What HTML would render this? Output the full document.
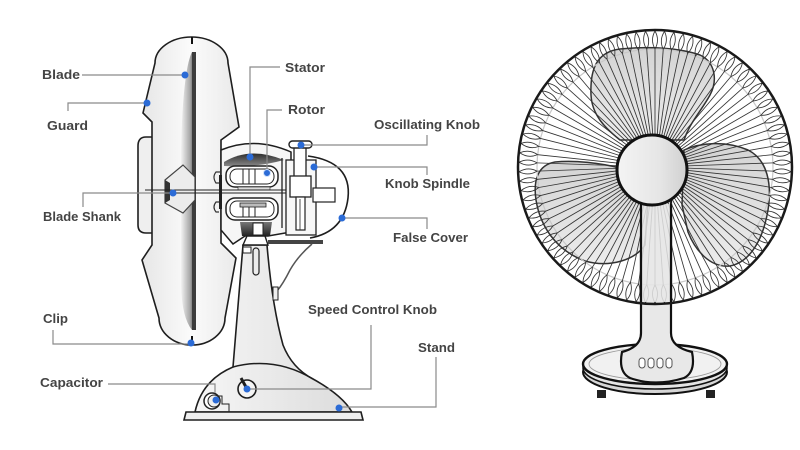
<!DOCTYPE html>
<html><head><meta charset="utf-8"><style>
html,body{margin:0;padding:0;background:#fff;}
svg{display:block;}
text{font-family:"Liberation Sans",sans-serif;font-weight:bold;font-size:13px;fill:#444;}
</style></head><body>
<svg width="800" height="450" viewBox="0 0 800 450" xmlns="http://www.w3.org/2000/svg">
<defs>
<linearGradient id="gGuard" x1="0" x2="1" y1="0" y2="0"><stop offset="0" stop-color="#e6e6e6"/><stop offset="0.5" stop-color="#fbfbfb"/><stop offset="1" stop-color="#e9e9e9"/></linearGradient>
<linearGradient id="gBlade" x1="0" x2="1"><stop offset="0" stop-color="#f2f2f2"/><stop offset="0.6" stop-color="#a8a8a8"/><stop offset="1" stop-color="#3a3a3a"/></linearGradient>
<linearGradient id="gDark" x1="0" x2="0" y1="0" y2="1"><stop offset="0" stop-color="#2e2e2e"/><stop offset="1" stop-color="#8a8a8a"/></linearGradient>
<linearGradient id="gCol" x1="0" x2="1"><stop offset="0" stop-color="#f6f6f6"/><stop offset="1" stop-color="#dcdcdc"/></linearGradient>
<linearGradient id="gHub" x1="0" x2="1"><stop offset="0" stop-color="#f4f4f4"/><stop offset="0.6" stop-color="#e6e6e6"/><stop offset="1" stop-color="#d0d0d0"/></linearGradient>
<linearGradient id="gFB" x1="0" x2="0" y1="0" y2="1"><stop offset="0" stop-color="#d4d4d4"/><stop offset="1" stop-color="#ececec"/></linearGradient>
<linearGradient id="gBot" x1="0" x2="0" y1="0" y2="1"><stop offset="0" stop-color="#777"/><stop offset="1" stop-color="#222"/></linearGradient>
<g id="s" stroke="#333" stroke-width="0.85" fill="none">
<line x1="655" y1="135" x2="655" y2="49"/>
<path d="M655,49 Q650,40 655,31 Q660,40 655,49"/>
</g>
<g id="s9">
<use href="#s"/>
<use href="#s" transform="rotate(4 655 167)"/>
<use href="#s" transform="rotate(8 655 167)"/>
<use href="#s" transform="rotate(12 655 167)"/>
<use href="#s" transform="rotate(16 655 167)"/>
<use href="#s" transform="rotate(20 655 167)"/>
<use href="#s" transform="rotate(24 655 167)"/>
<use href="#s" transform="rotate(28 655 167)"/>
<use href="#s" transform="rotate(32 655 167)"/>
</g>
</defs>

<rect width="800" height="450" fill="#fff"/>

<!-- ============ LEFT SIDE VIEW ============ -->
<path d="M153,137 L146,137 Q138,137 138,146 L138,225 Q138,233 146,233 L153,233" fill="#efefef" stroke="#1e1e1e" stroke-width="1.6"/>
<path d="M155,63 A36.5,26 0 0 1 228,63 L239,127 L221,140 L221,243 L236,258 L225,318 A33,27 0 0 1 159,318 L142,260 L152,245 L152,122 L143,113 Z" fill="url(#gGuard)" stroke="#1e1e1e" stroke-width="1.6"/>
<line x1="192" y1="37" x2="192" y2="44" stroke="#111" stroke-width="2"/>
<path d="M192,52 Q183,70 181,150 L181,285 Q182,318 192,330 L196,330 L196,52 Z" fill="url(#gBlade)"/>
<rect x="192" y="52" width="4" height="278" fill="#3c3c3c"/>
<line x1="192" y1="336" x2="192" y2="343" stroke="#111" stroke-width="2"/>
<polygon points="165,180 183,165 195,177 195,200 183,213 165,203" fill="#ececec" stroke="#444" stroke-width="1.2"/>
<polygon points="165,180 170,183 170,200 165,203" fill="#333"/>

<path d="M221,150 Q255,136 291,152 L291,232 L268,236 L245,236 L233,244 L221,230 Z" fill="#f6f6f6" stroke="#1e1e1e" stroke-width="1.5"/>
<path d="M224,162 Q250,146 284,160 Q255,168 224,166 Z" fill="url(#gDark)"/>
<rect x="226" y="166" width="52" height="21" rx="9" fill="#fff" stroke="#222" stroke-width="1.5"/>
<rect x="230" y="169" width="44" height="15" rx="7" fill="none" stroke="#222" stroke-width="1"/>
<path d="M243,169 V184 M249,169 V184 M255,169 V184" stroke="#222" stroke-width="1"/>
<rect x="226" y="198" width="52" height="22" rx="9" fill="#fff" stroke="#222" stroke-width="1.5"/>
<rect x="230" y="201" width="44" height="16" rx="7" fill="none" stroke="#222" stroke-width="1"/>
<path d="M243,206 V217 M249,206 V217 M255,206 V217" stroke="#222" stroke-width="1"/>
<rect x="240" y="203" width="26" height="4" fill="#bbb" stroke="#222" stroke-width="0.8"/>
<rect x="238" y="187" width="32" height="3" fill="#ddd" stroke="#222" stroke-width="0.6"/>
<line x1="282" y1="158" x2="282" y2="228" stroke="#222" stroke-width="1.3"/>
<path d="M221,172 L216,172 Q212,177 216,183 L219,183 M221,202 L216,202 Q212,207 216,212 L219,212" fill="none" stroke="#333" stroke-width="1.2"/>
<rect x="219" y="175" width="3" height="34" fill="#222"/>
<path d="M240,222 L272,222 L270,236 L242,236 Z" fill="url(#gBot)"/>
<rect x="253" y="223" width="10" height="12" fill="#fff" stroke="#222" stroke-width="1"/>
<line x1="145" y1="190" x2="300" y2="190" stroke="#222" stroke-width="0.9"/>
<line x1="145" y1="193" x2="300" y2="193" stroke="#222" stroke-width="0.9"/>
<rect x="286" y="160" width="30" height="75" fill="#f7f7f7" stroke="#222" stroke-width="1.3"/>
<rect x="313" y="188" width="22" height="14" fill="#fff" stroke="#222" stroke-width="1.2"/>
<rect x="294" y="147" width="12" height="30" fill="#fff" stroke="#222" stroke-width="1.3"/>
<rect x="290" y="176" width="21" height="21" fill="#fff" stroke="#222" stroke-width="1.3"/>
<rect x="296" y="197" width="9" height="33" fill="#fff" stroke="#222" stroke-width="1.2"/>
<line x1="300" y1="199" x2="300" y2="230" stroke="#222" stroke-width="0.8"/>
<rect x="289" y="141" width="23" height="7" rx="3.5" fill="#fff" stroke="#222" stroke-width="1.4"/>
<path d="M308,156 Q352,162 348,198 Q344,232 310,238" fill="none" stroke="#1e1e1e" stroke-width="1.6"/>

<path d="M243,245 L267,245 Q272,305 283,345 Q292,368 313,379 Q342,395 352,412 L195,412 Q202,380 233,367 Z" fill="url(#gCol)" stroke="#1e1e1e" stroke-width="1.6"/>
<path d="M233,367 Q275,356 313,379" fill="none" stroke="#1e1e1e" stroke-width="1.5"/>
<path d="M186,412 L361,412 L363,420 L184,420 Z" fill="#efefef" stroke="#1e1e1e" stroke-width="1.6"/>
<path d="M247,236 L265,236 L268,245 L243,245 Z" fill="#fff" stroke="#1e1e1e" stroke-width="1.4"/>
<rect x="253" y="248" width="6" height="27" rx="3" fill="none" stroke="#222" stroke-width="1.2"/>
<rect x="243" y="247" width="8" height="6" fill="#fff" stroke="#222" stroke-width="1"/>
<rect x="268" y="240" width="55" height="4" fill="#444"/>
<path d="M312,244 Q298,256 290,270 Q283,284 277,291" fill="none" stroke="#555" stroke-width="1.5"/>
<rect x="273" y="287" width="5" height="13" fill="#eee" stroke="#222" stroke-width="1"/>
<circle cx="212" cy="401" r="8" fill="#fff" stroke="#222" stroke-width="1.5"/>
<circle cx="214" cy="401" r="6" fill="#eee" stroke="#222" stroke-width="1"/>
<path d="M217,396 L222,396 L222,404 L229,404 L229,412" fill="none" stroke="#222" stroke-width="1"/>
<circle cx="247" cy="389" r="9" fill="#f4f4f4" stroke="#1e1e1e" stroke-width="1.6"/>
<line x1="241" y1="378" x2="246" y2="387" stroke="#1e1e1e" stroke-width="3"/>

<g fill="none" stroke="#8a8a8a" stroke-width="1.2">
<path d="M82,75 H185"/>
<path d="M68,111 V103 H147"/>
<path d="M83,207 V193 H173"/>
<path d="M53,330 V344 H190"/>
<path d="M108,384 H215 V393"/>
<path d="M280,67 H250 V157"/>
<path d="M282,110 H267 V173"/>
<path d="M301,145 H427 V135"/>
<path d="M314,167 H427 V175"/>
<path d="M342,218 H427 V229"/>
<path d="M371,325 V389 H247"/>
<path d="M436,357 V407 H339"/>
</g>
<g fill="#2b6bd6">
<circle cx="185" cy="75" r="3.5"/>
<circle cx="147" cy="103" r="3.5"/>
<circle cx="173" cy="193" r="3.5"/>
<circle cx="191" cy="343" r="3.5"/>
<circle cx="216" cy="400" r="3.5"/>
<circle cx="250" cy="157" r="3.5"/>
<circle cx="267" cy="173" r="3.5" stroke="#cfe0fb" stroke-width="1"/>
<circle cx="301" cy="145" r="3.5"/>
<circle cx="314" cy="167" r="3.5"/>
<circle cx="342" cy="218" r="3.5"/>
<circle cx="247" cy="389" r="3.5"/>
<circle cx="339" cy="408" r="3.5"/>
</g>

<text x="42" y="79" textLength="38" lengthAdjust="spacingAndGlyphs">Blade</text>
<text x="47" y="130" textLength="41" lengthAdjust="spacingAndGlyphs">Guard</text>
<text x="43" y="221" textLength="78" lengthAdjust="spacingAndGlyphs">Blade Shank</text>
<text x="43" y="323" textLength="25" lengthAdjust="spacingAndGlyphs">Clip</text>
<text x="40" y="387" textLength="63" lengthAdjust="spacingAndGlyphs">Capacitor</text>
<text x="285" y="72" textLength="40" lengthAdjust="spacingAndGlyphs">Stator</text>
<text x="288" y="114" textLength="37" lengthAdjust="spacingAndGlyphs">Rotor</text>
<text x="374" y="129" textLength="106" lengthAdjust="spacingAndGlyphs">Oscillating Knob</text>
<text x="385" y="188" textLength="85" lengthAdjust="spacingAndGlyphs">Knob Spindle</text>
<text x="393" y="242" textLength="75" lengthAdjust="spacingAndGlyphs">False Cover</text>
<text x="308" y="314" textLength="129" lengthAdjust="spacingAndGlyphs">Speed Control Knob</text>
<text x="418" y="352" textLength="37" lengthAdjust="spacingAndGlyphs">Stand</text>

<!-- ============ RIGHT FRONT VIEW ============ -->
<rect x="597" y="390" width="9" height="8" fill="#222"/>
<rect x="706" y="390" width="9" height="8" fill="#222"/>
<ellipse cx="655" cy="372" rx="72" ry="22" fill="#d6d6d6" stroke="#111" stroke-width="2"/>
<ellipse cx="655" cy="368" rx="72" ry="21" fill="#e4e4e4" stroke="#111" stroke-width="1.6"/>
<ellipse cx="655" cy="364" rx="72" ry="20" fill="#f1f1f1" stroke="#111" stroke-width="2.4"/>
<ellipse cx="655" cy="364" rx="66" ry="16" fill="none" stroke="#999" stroke-width="0.8"/>
<path d="M641,200 L641,333 Q641,347 622,352 Q618,372 630,378 Q655,387 684,378 Q696,372 692,352 Q671,347 671,333 L671,200 Z" fill="#e8e8e8" stroke="#111" stroke-width="2.2"/>
<g fill="#fff" stroke="#555" stroke-width="1">
<rect x="639" y="358" width="6" height="10" rx="3"/>
<rect x="648" y="358" width="6" height="10" rx="3"/>
<rect x="657" y="358" width="6" height="10" rx="3"/>
<rect x="666" y="358" width="6" height="10" rx="3"/>
</g>
<g fill="url(#gFB)" stroke="#333" stroke-width="1.5">
<path d="M620,140 C605,128 592,115 591,95 C590,70 596,52 620,49 C650,46 680,48 700,55 C715,62 718,80 710,95 C702,110 690,122 684,140 Z"/>
<path d="M620,168 C600,163 575,160 555,162 C538,165 533,180 536,200 C540,225 555,250 585,261 C610,268 635,260 645,245 L648,200 Z"/>
<path d="M684,150 C700,143 725,140 748,150 C768,160 772,185 768,210 C763,240 750,262 730,266 C710,268 695,250 688,232 L682,205 Z"/>
</g>
<circle cx="655" cy="167" r="118" fill="none" stroke="#c8c8c8" stroke-width="1.2"/>
<use href="#s9"/>
<use href="#s9" transform="rotate(36 655 167)"/>
<use href="#s9" transform="rotate(72 655 167)"/>
<use href="#s9" transform="rotate(108 655 167)"/>
<use href="#s9" transform="rotate(144 655 167)"/>
<use href="#s9" transform="rotate(180 655 167)"/>
<use href="#s9" transform="rotate(216 655 167)"/>
<use href="#s9" transform="rotate(252 655 167)"/>
<use href="#s9" transform="rotate(288 655 167)"/>
<use href="#s9" transform="rotate(324 655 167)"/>
<circle cx="655" cy="167" r="137" fill="none" stroke="#1a1a1a" stroke-width="2.5"/>
<rect x="642" y="204" width="28" height="98" fill="#e8e8e8" opacity="0.85"/>
<path d="M641,204 L641,302 M671,204 L671,302" stroke="#111" stroke-width="2.2"/>
<circle cx="652" cy="170" r="35" fill="url(#gHub)" stroke="#111" stroke-width="3"/>
</svg>
</body></html>
